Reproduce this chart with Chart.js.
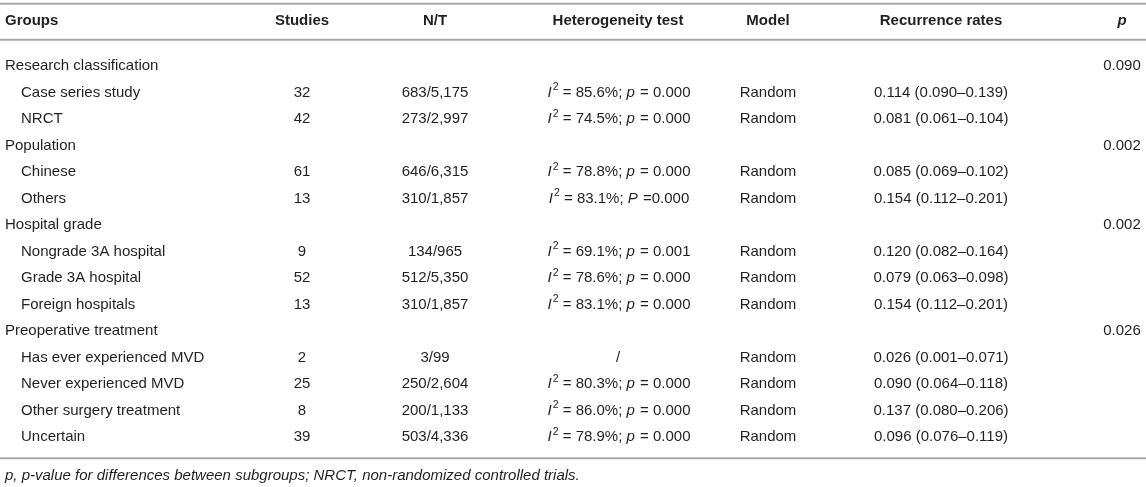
<!DOCTYPE html>
<html>
<head>
<meta charset="utf-8">
<script src="https://cdn.jsdelivr.net/npm/chart.js@4.4.1/dist/chart.umd.min.js"></script>
<style>
  html, body { margin: 0; padding: 0; background: #fff; }
  #wrap { width: 1146px; height: 487px; position: relative; }
</style>
</head>
<body>
<div id="wrap"><canvas id="tbl"></canvas></div>
<script>
// ------------------------------------------------------------
// TABLE DATA (one entry per row, null = group heading row)
// ------------------------------------------------------------
const headers = ["Groups", "Studies", "N/T", "Heterogeneity test", "Model", "Recurrence rates", "p"];

const rowLabels = [
  "Research classification", "Case series study", "NRCT",
  "Population", "Chinese", "Others",
  "Hospital grade", "Nongrade 3A hospital", "Grade 3A hospital", "Foreign hospitals",
  "Preoperative treatment", "Has ever experienced MVD", "Never experienced MVD",
  "Other surgery treatment", "Uncertain"
];

const studies = [null, 32, 42, null, 61, 13, null, 9, 52, 13, null, 2, 25, 8, 39];

const nT = [
  null, "683/5,175", "273/2,997",
  null, "646/6,315", "310/1,857",
  null, "134/965", "512/5,350", "310/1,857",
  null, "3/99", "250/2,604", "200/1,133", "503/4,336"
];

const heterogeneity = [
  null, "I2 = 85.6%; p = 0.000", "I2 = 74.5%; p = 0.000",
  null, "I2 = 78.8%; p = 0.000", "I2 = 83.1%; P =0.000",
  null, "I2 = 69.1%; p = 0.001", "I2 = 78.6%; p = 0.000", "I2 = 83.1%; p = 0.000",
  null, "/", "I2 = 80.3%; p = 0.000", "I2 = 86.0%; p = 0.000", "I2 = 78.9%; p = 0.000"
];

const model = [
  null, "Random", "Random",
  null, "Random", "Random",
  null, "Random", "Random", "Random",
  null, "Random", "Random", "Random", "Random"
];

const recurrence = [
  null, "0.114 (0.090–0.139)", "0.081 (0.061–0.104)",
  null, "0.085 (0.069–0.102)", "0.154 (0.112–0.201)",
  null, "0.120 (0.082–0.164)", "0.079 (0.063–0.098)", "0.154 (0.112–0.201)",
  null, "0.026 (0.001–0.071)", "0.090 (0.064–0.118)", "0.137 (0.080–0.206)", "0.096 (0.076–0.119)"
];

const groupP = [
  "0.090", null, null,
  "0.002", null, null,
  "0.002", null, null, null,
  "0.026", null, null, null, null
];

const footnote = "p, p-value for differences between subgroups; NRCT, non-randomized controlled trials.";

// ------------------------------------------------------------
// LAYOUT / STYLE
// ------------------------------------------------------------
const FONT = "'Liberation Sans', Arial, Helvetica, sans-serif";
const TEXT_COLOR = "#231f20";
const RULE_COLOR = "#a9a9a9";
const FS = 15;

// column anchors on the x scale (0..1146 = pixels)
const COLS = { groups: 5, indent: 21, studies: 302, nt: 435, het: 618, model: 768, rates: 941, p: 1122 };

// split "I2 = 85.6%; p = 0.000" into italic / superscript runs
function hetParts(s) {
  const m = s.match(/^I2(.*?;\s*)([pP])(.*)$/);
  if (!m) return [{ t: s }];
  return [
    { t: "I", italic: true },
    { t: "2", sup: true },
    { t: m[1] },
    { t: m[2], italic: true },
    { t: m[3] }
  ];
}

function partFont(p) {
  const size = p.sup ? FS * 0.7 : FS;
  return (p.italic ? "italic " : "") + size + "px " + FONT;
}

function drawRich(ctx, parts, cx, y) {
  let w = 0;
  parts.forEach(p => { ctx.font = partFont(p); p.w = ctx.measureText(p.t).width; w += p.w; });
  let x = cx - w / 2;
  ctx.textAlign = "left";
  parts.forEach(p => {
    ctx.font = partFont(p);
    ctx.fillText(p.t, x, p.sup ? y - FS * 0.35 : y);
    x += p.w + (p.italic ? 1 : 0);
  });
}

const tablePlugin = {
  id: "tableCells",
  afterDraw(chart) {
    const { ctx, chartArea: area } = chart;
    const xs = chart.scales.x;
    const ys = chart.scales.y;
    const X = v => xs.getPixelForValue(v);

    ctx.save();
    ctx.fillStyle = TEXT_COLOR;
    ctx.textBaseline = "middle";

    // rules
    ctx.strokeStyle = RULE_COLOR;
    ctx.lineWidth = 2;
    [area.top - 49, area.top - 13, area.bottom + 8].forEach(yy => {
      ctx.beginPath();
      ctx.moveTo(area.left, yy);
      ctx.lineTo(area.right, yy);
      ctx.stroke();
    });

    // header row
    const hy = area.top - 32;
    const hx = [COLS.groups, COLS.studies, COLS.nt, COLS.het, COLS.model, COLS.rates, COLS.p];
    headers.forEach((h, i) => {
      ctx.font = (i === 6 ? "italic " : "") + "bold " + FS + "px " + FONT;
      ctx.textAlign = i === 0 ? "left" : "center";
      ctx.fillText(h, X(hx[i]), hy);
    });

    // body rows, positioned by the category scale
    rowLabels.forEach((label, i) => {
      const y = ys.getPixelForValue(i);
      const isGroup = studies[i] === null;
      ctx.font = FS + "px " + FONT;
      ctx.textAlign = "left";
      ctx.fillText(label, X(isGroup ? COLS.groups : COLS.indent), y);

      ctx.textAlign = "center";
      if (studies[i] !== null) ctx.fillText(String(studies[i]), X(COLS.studies), y);
      if (nT[i]) ctx.fillText(nT[i], X(COLS.nt), y);
      if (model[i]) ctx.fillText(model[i], X(COLS.model), y);
      if (recurrence[i]) ctx.fillText(recurrence[i], X(COLS.rates), y);
      if (groupP[i]) ctx.fillText(groupP[i], X(COLS.p), y);
      if (heterogeneity[i]) drawRich(ctx, hetParts(heterogeneity[i]), X(COLS.het), y);
    });

    // footnote
    ctx.font = "italic " + FS + "px " + FONT;
    ctx.textAlign = "left";
    ctx.fillText(footnote, X(COLS.groups), area.bottom + 26);

    ctx.restore();
  }
};

new Chart(document.getElementById("tbl"), {
  type: "bar",
  data: {
    labels: rowLabels,
    datasets: [{
      label: "Studies",
      data: studies,
      backgroundColor: "rgba(0,0,0,0)",
      borderWidth: 0
    }]
  },
  options: {
    indexAxis: "y",
    responsive: true,
    maintainAspectRatio: false,
    animation: false,
    events: [],
    layout: { padding: { left: 0, right: 0, top: 52.75, bottom: 36.75 } },
    plugins: { legend: { display: false }, tooltip: { enabled: false } },
    scales: {
      x: { type: "linear", min: 0, max: 1146, display: false },
      y: { type: "category", offset: true, display: false }
    }
  },
  plugins: [tablePlugin]
});
</script>
</body>
</html>
